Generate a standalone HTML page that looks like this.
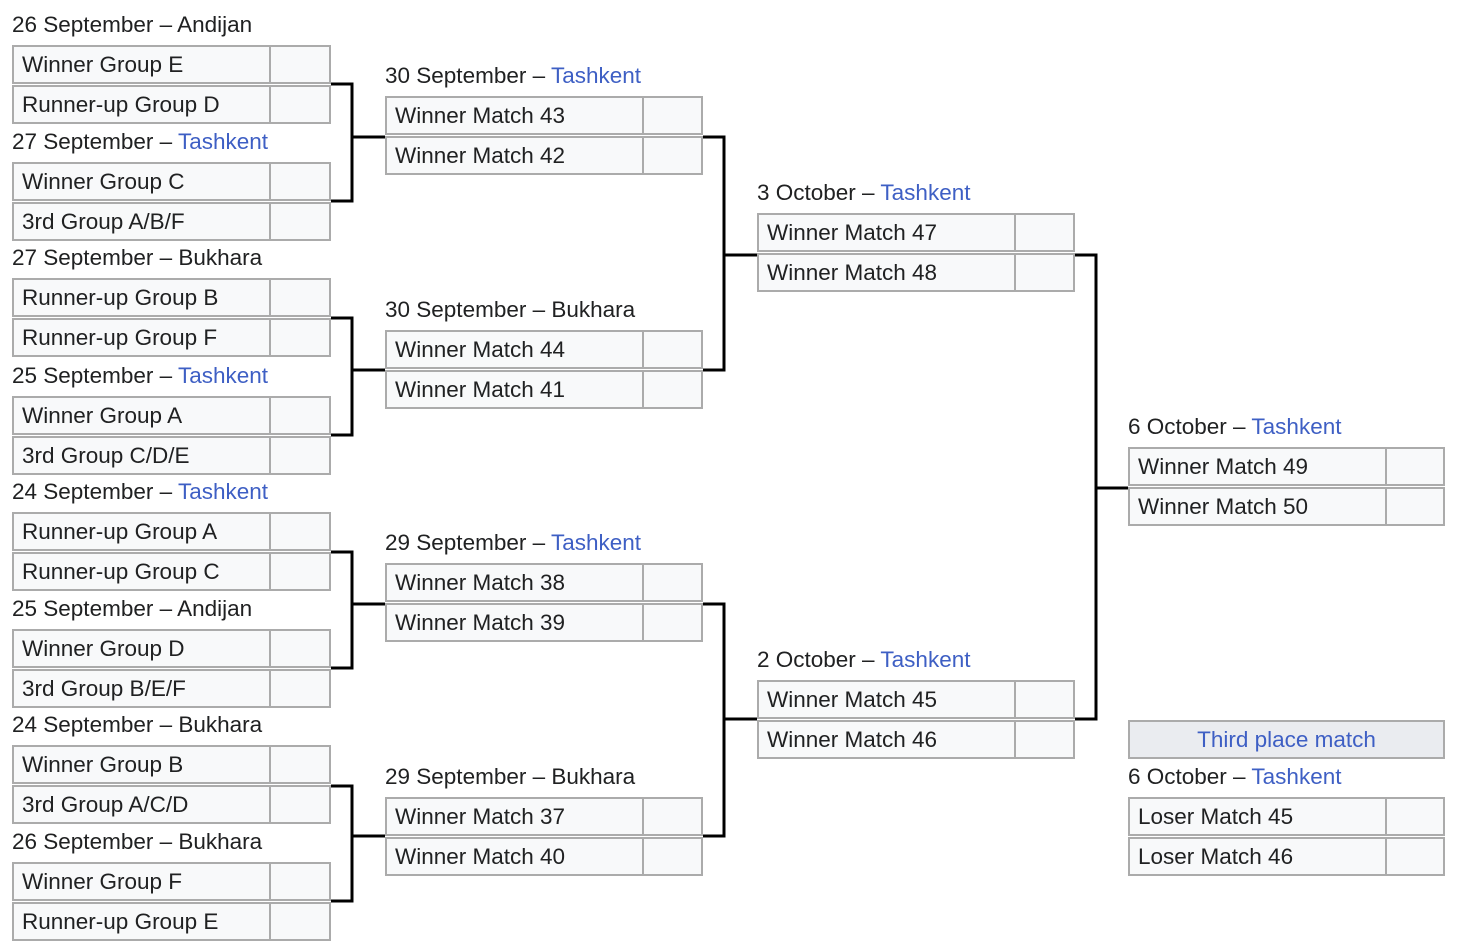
<!DOCTYPE html>
<html><head><meta charset="utf-8"><style>
body{margin:0;width:1460px;height:947px;background:#fff;position:relative;overflow:hidden;font-family:"Liberation Sans",Arial,sans-serif;font-size:22.5px;color:#202122}
.m{position:absolute;width:319px}
.h{position:absolute;top:-33px;left:0;white-space:nowrap;line-height:26px}
.h b{font-weight:normal;color:#3e5fc4}
.r{height:39px;display:flex;margin-bottom:1px}
.r span{width:259px;box-sizing:border-box;border:2px solid #ababab;background:#f8f9fa;padding-left:8px;line-height:35px;white-space:nowrap}
.r i{flex:1;box-sizing:border-box;border:2px solid #ababab;border-left:none;background:#f8f9fa}
.tp{position:absolute;left:1128px;top:720px;width:317px;height:39px;box-sizing:border-box;border:2px solid #ababab;background:#eaecf0;text-align:center;line-height:35px;color:#3e5fc4}
svg{position:absolute;left:0;top:0}
</style></head><body>
<svg width="1460" height="947"><g stroke="#000" stroke-width="3" fill="none">
<path d="M331 84H352V201H331M352 137H385"/>
<path d="M331 318H352V435H331M352 370H385"/>
<path d="M331 552H352V668H331M352 604H385"/>
<path d="M331 786H352V901H331M352 836H385"/>
<path d="M703 137H724V370H703M724 255H757"/>
<path d="M703 604H724V836H703M724 719H757"/>
<path d="M1075 255H1096V719H1075M1096 488H1128"/>
</g></svg>

<div class="m" style="left:12px;top:45px"><div class="h">26 September – Andijan</div><div class="r"><span>Winner Group E</span><i></i></div><div class="r"><span>Runner-up Group D</span><i></i></div></div>
<div class="m" style="left:12px;top:162px"><div class="h">27 September – <b>Tashkent</b></div><div class="r"><span>Winner Group C</span><i></i></div><div class="r"><span>3rd Group A/B/F</span><i></i></div></div>
<div class="m" style="left:12px;top:278px"><div class="h">27 September – Bukhara</div><div class="r"><span>Runner-up Group B</span><i></i></div><div class="r"><span>Runner-up Group F</span><i></i></div></div>
<div class="m" style="left:12px;top:396px"><div class="h">25 September – <b>Tashkent</b></div><div class="r"><span>Winner Group A</span><i></i></div><div class="r"><span>3rd Group C/D/E</span><i></i></div></div>
<div class="m" style="left:12px;top:512px"><div class="h">24 September – <b>Tashkent</b></div><div class="r"><span>Runner-up Group A</span><i></i></div><div class="r"><span>Runner-up Group C</span><i></i></div></div>
<div class="m" style="left:12px;top:629px"><div class="h">25 September – Andijan</div><div class="r"><span>Winner Group D</span><i></i></div><div class="r"><span>3rd Group B/E/F</span><i></i></div></div>
<div class="m" style="left:12px;top:745px"><div class="h">24 September – Bukhara</div><div class="r"><span>Winner Group B</span><i></i></div><div class="r"><span>3rd Group A/C/D</span><i></i></div></div>
<div class="m" style="left:12px;top:862px"><div class="h">26 September – Bukhara</div><div class="r"><span>Winner Group F</span><i></i></div><div class="r"><span>Runner-up Group E</span><i></i></div></div>

<div class="m" style="left:385px;top:96px;width:318px"><div class="h">30 September – <b>Tashkent</b></div><div class="r"><span>Winner Match 43</span><i></i></div><div class="r"><span>Winner Match 42</span><i></i></div></div>
<div class="m" style="left:385px;top:330px;width:318px"><div class="h">30 September – Bukhara</div><div class="r"><span>Winner Match 44</span><i></i></div><div class="r"><span>Winner Match 41</span><i></i></div></div>
<div class="m" style="left:385px;top:563px;width:318px"><div class="h">29 September – <b>Tashkent</b></div><div class="r"><span>Winner Match 38</span><i></i></div><div class="r"><span>Winner Match 39</span><i></i></div></div>
<div class="m" style="left:385px;top:797px;width:318px"><div class="h">29 September – Bukhara</div><div class="r"><span>Winner Match 37</span><i></i></div><div class="r"><span>Winner Match 40</span><i></i></div></div>

<div class="m" style="left:757px;top:213px;width:318px"><div class="h">3 October – <b>Tashkent</b></div><div class="r"><span>Winner Match 47</span><i></i></div><div class="r"><span>Winner Match 48</span><i></i></div></div>
<div class="m" style="left:757px;top:680px;width:318px"><div class="h">2 October – <b>Tashkent</b></div><div class="r"><span>Winner Match 45</span><i></i></div><div class="r"><span>Winner Match 46</span><i></i></div></div>

<div class="m" style="left:1128px;top:447px;width:317px"><div class="h">6 October – <b>Tashkent</b></div><div class="r"><span>Winner Match 49</span><i></i></div><div class="r"><span>Winner Match 50</span><i></i></div></div>
<div class="tp">Third place match</div>
<div class="m" style="left:1128px;top:797px;width:317px"><div class="h">6 October – <b>Tashkent</b></div><div class="r"><span>Loser Match 45</span><i></i></div><div class="r"><span>Loser Match 46</span><i></i></div></div>
</body></html>
